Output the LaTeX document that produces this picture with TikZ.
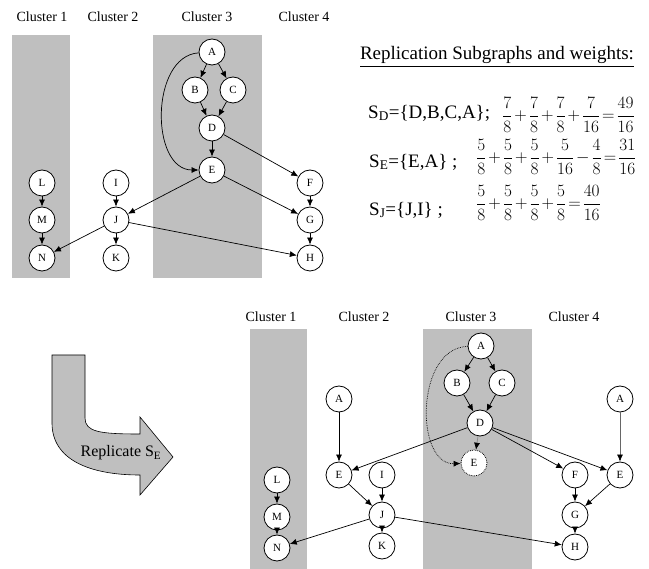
\documentclass[tikz,border=0pt]{standalone}
\usepackage{amsmath}
\usepackage{fontspec}
\setmainfont{Liberation Serif}
\usetikzlibrary{arrows.meta, positioning}

\newcommand{\weightsum}[1]{$\medmuskip=2mu\relax\thickmuskip=2mu\relax #1$}

\begin{document}
\begin{tikzpicture}[x=1pt, y=-1pt,
        vertex/.style={draw, circle, fill=white, minimum size=26pt, inner sep=0pt, line width=0.8pt, font=\fontsize{11}{12}\selectfont},
        edge/.style={-{Latex[length=7pt, width=6pt, color=black]}, line width=0.7pt},
        clusterlabel/.style={inner sep=0pt, font=\fontsize{14}{16}\selectfont},
        eqtext/.style={anchor=west, inner sep=0pt, font=\fontsize{19}{22}\selectfont},
        eqmath/.style={anchor=west, inner sep=0pt, font=\fontsize{17}{20}\selectfont}]
        \useasboundingbox (0,0) rectangle (649,569);

        % original placement
        \fill[black!25] (12,35) rectangle (70,278);
        \fill[black!25] (153,35) rectangle (262,278);
        \node[clusterlabel] (c1) at (42,17) {Cluster 1};
        \node[clusterlabel] (c2) at (113,17) {Cluster 2};
        \node[clusterlabel] (c3) at (207,17) {Cluster 3};
        \node[clusterlabel] (c4) at (304,17) {Cluster 4};

        \node[vertex] (A) at (212,52) {A};
        \node[vertex] (B) at (195,90) {B};
        \node[vertex] (C) at (233,90) {C};
        \node[vertex] (D) at (212,128) {D};
        \node[vertex] (E) at (212,170) {E};
        \node[vertex] (L) at (42,183) {L};
        \node[vertex] (M) at (42,220) {M};
        \node[vertex] (N) at (42,258) {N};
        \node[vertex] (I) at (116,183) {I};
        \node[vertex] (J) at (116,220) {J};
        \node[vertex] (K) at (116,258) {K};
        \node[vertex] (F) at (310,183) {F};
        \node[vertex] (G) at (310,220) {G};
        \node[vertex] (H) at (310,258) {H};

        \draw[edge] (A) -- (B);
        \draw[edge] (A) -- (C);
        \draw[edge] (B) -- (D);
        \draw[edge] (C) -- (D);
        \draw[edge] (D) -- (E);
        \draw[edge] (A) .. controls (150,56) and (150,170) .. (E);
        \draw[edge] (D) -- (F);
        \draw[edge] (E) -- (J);
        \draw[edge] (E) -- (G);
        \draw[edge] (L) -- (M);
        \draw[edge] (M) -- (N);
        \draw[edge] (I) -- (J);
        \draw[edge] (J) -- (N);
        \draw[edge] (J) -- (K);
        \draw[edge] (J) -- (H);
        \draw[edge] (F) -- (G);
        \draw[edge] (G) -- (H);

        % subgraphs and weights
        \node[inner sep=0pt, font=\fontsize{19}{22}\selectfont] (heading) at (497,57) {\underline{Replication Subgraphs and weights:}};
        \node[eqtext] (sD) at (368,113) {S\textsubscript{D}=\{D,B,C,A\};};
        \node[eqmath] (wD) at (502,115) {\weightsum{\dfrac{7}{8}+\dfrac{7}{8}+\dfrac{7}{8}+\dfrac{7}{16}=\dfrac{49}{16}}};
        \node[eqtext] (sE) at (369,162) {S\textsubscript{E}=\{E,A\} ;};
        \node[eqmath] (wE) at (476,157) {\weightsum{\dfrac{5}{8}+\dfrac{5}{8}+\dfrac{5}{8}+\dfrac{5}{16}-\dfrac{4}{8}=\dfrac{31}{16}}};
        \node[eqtext] (sJ) at (369,210) {S\textsubscript{J}=\{J,I\} ;};
        \node[eqmath] (wJ) at (476,203) {\weightsum{\dfrac{5}{8}+\dfrac{5}{8}+\dfrac{5}{8}+\dfrac{5}{8}=\dfrac{40}{16}}};

        % bent arrow
        \filldraw[fill=black!25, line width=0.6pt] (52,355) -- (85,355) -- (85,418)
            .. controls (85,432) and (100,434) .. (140,434) -- (140,417) -- (173,457)
            -- (140,495) -- (140,475) .. controls (90,475) and (52,460) .. (52,423) -- cycle;
        \node[inner sep=0pt, font=\fontsize{16}{18}\selectfont] (replicate) at (121,453) {Replicate S\textsubscript{E}};

        % after replication
        \fill[black!25] (250,329) rectangle (307,569);
        \fill[black!25] (423,329) rectangle (532,569);
        \node[clusterlabel] (rc1) at (271,317) {Cluster 1};
        \node[clusterlabel] (rc2) at (364,317) {Cluster 2};
        \node[clusterlabel] (rc3) at (471,317) {Cluster 3};
        \node[clusterlabel] (rc4) at (574,317) {Cluster 4};

        \node[vertex] (rA3) at (481,346) {A};
        \node[vertex] (rB) at (457,383) {B};
        \node[vertex] (rC) at (502,383) {C};
        \node[vertex] (rD) at (480,423) {D};
        \node[vertex, densely dotted] (rE3) at (474,463) {E};
        \node[vertex] (rA2) at (339,399) {A};
        \node[vertex] (rE2) at (339,475) {E};
        \node[vertex] (rI) at (382,475) {I};
        \node[vertex] (rJ) at (382,515) {J};
        \node[vertex] (rK) at (382,546) {K};
        \node[vertex] (rA4) at (620,399) {A};
        \node[vertex] (rE4) at (620,475) {E};
        \node[vertex] (rF) at (575,475) {F};
        \node[vertex] (rG) at (575,515) {G};
        \node[vertex] (rH) at (575,547) {H};
        \node[vertex] (rL) at (277,480) {L};
        \node[vertex] (rM) at (277,517) {M};
        \node[vertex] (rN) at (277,548) {N};

        \draw[edge] (rA3) -- (rB);
        \draw[edge] (rA3) -- (rC);
        \draw[edge] (rB) -- (rD);
        \draw[edge] (rC) -- (rD);
        \draw[edge, draw=black!45] (rD) -- (rE3);
        \draw[edge, densely dotted] (rA3) .. controls (415,348) and (415,465) .. (rE3);
        \draw[edge] (rD) -- (rE2);
        \draw[edge] (rD) -- (rF);
        \draw[edge] (rD) -- (rE4);
        \draw[edge] (rA2) -- (rE2);
        \draw[edge, draw=black!60] (rA4) -- (rE4);
        \draw[edge] (rE2) -- (rJ);
        \draw[edge] (rI) -- (rJ);
        \draw[edge] (rJ) -- (rK);
        \draw[edge] (rJ) -- (rN);
        \draw[edge] (rJ) -- (rH);
        \draw[edge] (rF) -- (rG);
        \draw[edge] (rE4) -- (rG);
        \draw[edge] (rG) -- (rH);
        \draw[edge] (rL) -- (rM);
        \draw[edge] (rM) -- (rN);
    \end{tikzpicture}
\end{document}
